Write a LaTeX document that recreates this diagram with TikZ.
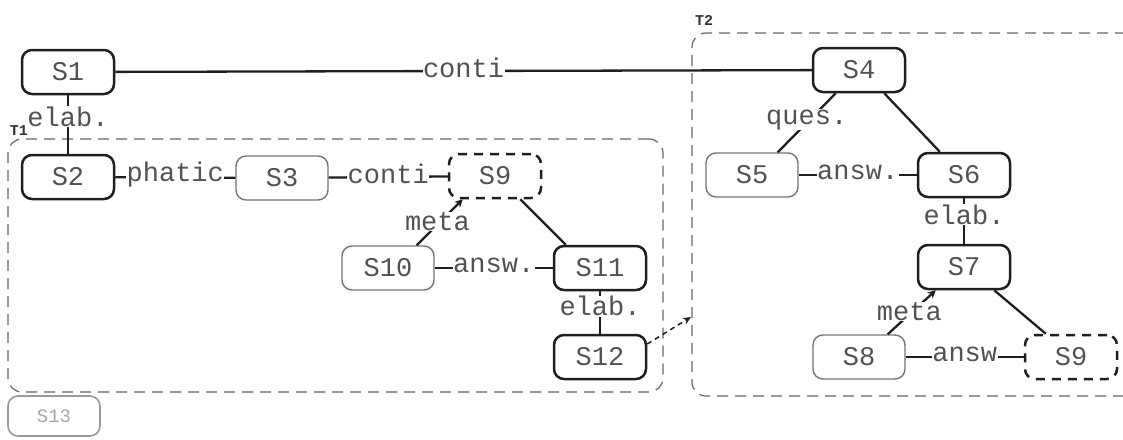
\documentclass[tikz,border=0pt]{standalone}
\usepackage{fontspec}
\setmonofont{Liberation Mono}
\usetikzlibrary{arrows.meta,calc}
\begin{document}
\begin{tikzpicture}[x=1pt,y=-1pt,
 every node/.style={font=\ttfamily\fontsize{27}{30}\selectfont, text=black!68},
 seg/.style={rounded corners=10pt, minimum width=92pt, minimum height=44pt, inner sep=0pt},
 strong/.style={seg, draw=black!88, line width=2.5pt},
 weak/.style={seg, draw=black!55, line width=1.4pt},
 virt/.style={seg, draw=black!88, line width=2.5pt, dash pattern=on 9pt off 7pt},
 faint/.style={seg, minimum height=40pt, draw=black!40, line width=1.6pt, text=black!35, font=\ttfamily\fontsize{19}{21}\selectfont},
 rel/.style={draw=black!88, line width=2.3pt},
 metarel/.style={rel, -{Stealth[length=8pt,width=8pt]}},
 lbl/.style={fill=white, inner sep=0.5pt, yshift=3pt},
 group/.style={draw=black!60, line width=1.2pt, dash pattern=on 11pt off 7pt, rounded corners=14pt, inner sep=0pt},
 glabel/.style={font=\ttfamily\bfseries\fontsize{15}{17}\selectfont, text=black!80, inner sep=0pt},
]
\useasboundingbox (0,0) rectangle (1123,439);
\clip (0,0) rectangle (1123,439);
% groups
\node[group, minimum width=655pt, minimum height=253pt] (T1) at (335.5,265.5) {};
\node[group, minimum width=448pt, minimum height=363pt] (T2) at (916,214.5) {};
\node[glabel] (T1l) at (19,131) {T1};
\node[glabel] (T2l) at (704,20) {T2};
% segments
\node[strong] (S1) at (68,72) {S1};
\node[strong] (S2) at (68,177) {S2};
\node[weak] (S3) at (282,178) {S3};
\node[virt] (S9a) at (495,176) {S9};
\node[weak] (S10) at (388,268) {S10};
\node[strong] (S11) at (600,268) {S11};
\node[strong] (S12) at (600,357) {S12};
\node[strong] (S4) at (859,70) {S4};
\node[weak] (S5) at (752,175) {S5};
\node[strong] (S6) at (964,175) {S6};
\node[strong] (S7) at (964,267) {S7};
\node[weak] (S8) at (859,357) {S8};
\node[virt] (S9b) at (1071,357) {S9};
\node[faint] (S13) at (54,416) {S13};
% relations
\draw[rel] (S1) -- node[lbl, pos=0.5] {conti} (S4);
\draw[rel] (S1) -- node[lbl, pos=0.42] {elab.} (S2);
\draw[rel] (S2) -- node[lbl] {phatic} (S3);
\draw[rel] (S3) -- node[lbl] {conti} (S9a);
\draw[metarel] ($(S10.north east)+(-18,0)$) -- node[lbl, pos=0.45] {meta} ($(S9a.south west)+(15,0)$);
\draw[rel] ($(S9a.south east)+(-22,0)$) -- ($(S11.north west)+(13,0)$);
\draw[rel] (S10) -- node[lbl] {answ.} (S11);
\draw[rel] (S11) -- node[lbl, pos=0.42] {elab.} (S12);
\draw[rel] ($(S4.south west)+(24,0)$) -- node[lbl] {ques.} ($(S5.north east)+(-21,0)$);
\draw[rel] ($(S4.south east)+(-22,0)$) -- ($(S6.north west)+(23,0)$);
\draw[rel] (S5) -- node[lbl] {answ.} (S6);
\draw[rel] (S6) -- node[lbl, pos=0.42] {elab.} (S7);
\draw[metarel] ($(S8.north east)+(-18,0)$) -- node[lbl, pos=0.45] {meta} ($(S7.south west)+(19,0)$);
\draw[rel] ($(S7.south east)+(-17,0)$) -- ($(S9b.north west)+(22,0)$);
\draw[rel] (S8) -- node[lbl] {answ} (S9b);
% link from T1 to T2
\coordinate (t2in) at (691,317);
\draw[draw=black!88, line width=1.5pt, dash pattern=on 5pt off 4pt, -{Stealth[length=8pt,width=7pt]}] ($(S12.east)+(0,-13)$) -- (t2in);
\end{tikzpicture}
\end{document}
